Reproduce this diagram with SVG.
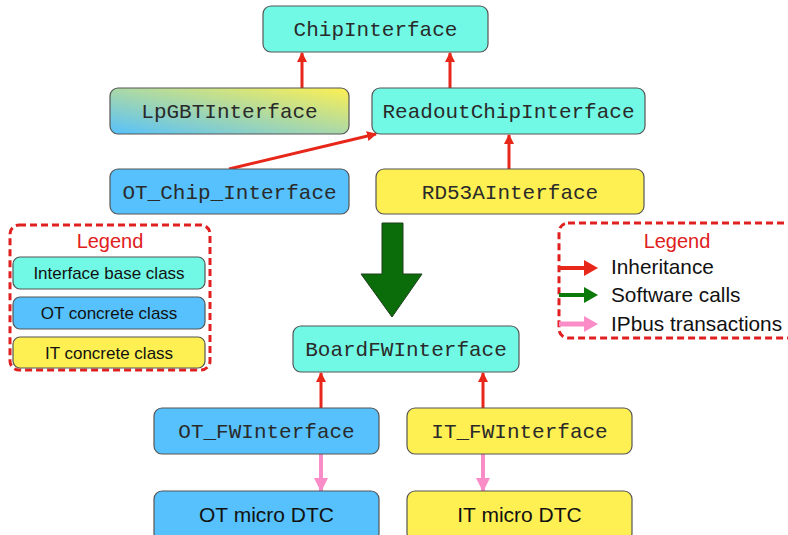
<svg xmlns="http://www.w3.org/2000/svg" width="788" height="535" viewBox="0 0 788 535">
<defs>
<linearGradient id="grad" x1="0" y1="1" x2="1" y2="0">
<stop offset="0" stop-color="#56C1FC"/>
<stop offset="1" stop-color="#FEF052"/>
</linearGradient>
<marker id="ar" markerWidth="10" markerHeight="10" refX="9" refY="5" orient="auto" markerUnits="userSpaceOnUse" viewBox="0 0 10 10">
<path d="M0,0 L10,5 L0,10 z" fill="#E8271B"/>
</marker>
<marker id="ap" markerWidth="14" markerHeight="14" refX="13" refY="7" orient="auto" markerUnits="userSpaceOnUse" viewBox="0 0 14 14">
<path d="M0,0 L14,7 L0,14 z" fill="#FA8DC8"/>
</marker>
</defs>
<style>
.box{stroke:#555;stroke-width:1.2}
.cyan{fill:#72F9E5}
.blue{fill:#56C1FC}
.yel{fill:#FEF052}
.mono{font-family:"Liberation Mono","Courier New",monospace;font-size:21px;fill:#2a2a2a;text-anchor:middle}
.sans{font-family:"Liberation Sans",Arial,sans-serif;fill:#111}
.red{stroke:#E8271B;stroke-width:3;fill:none;marker-end:url(#ar)}
.pink{stroke:#FA8DC8;stroke-width:4;fill:none;marker-end:url(#ap)}
.leg{fill:none;stroke:#E02020;stroke-width:3;stroke-dasharray:7,4}
.legtitle{fill:#E02020}
</style>
<rect width="788" height="535" fill="#fff"/>

<g id="connectors">
<line class="red" x1="302" y1="88" x2="302" y2="53"/>
<line class="red" x1="450" y1="88" x2="450" y2="53"/>
<line class="red" x1="229" y1="169" x2="376" y2="134"/>
<line class="red" x1="509" y1="169" x2="509" y2="135"/>
<line class="red" x1="321" y1="408" x2="321" y2="373"/>
<line class="red" x1="483" y1="408" x2="483" y2="373"/>
<line class="pink" x1="321" y1="454" x2="321" y2="491"/>
<line class="pink" x1="483" y1="454" x2="483" y2="491"/>
<path id="green-arrow" d="M382,223 L403,223 L403,274 L422,274 L392,317 L361,274 L382,274 Z" fill="#0A6D0A" stroke="#1f3f1f" stroke-width="1"/>
</g>

<g id="ChipInterface"><rect class="box cyan" x="263" y="6" width="225" height="46" rx="8"/><text class="mono" x="375.5" y="36">ChipInterface</text></g>
<g id="LpGBTInterface"><rect class="box" fill="url(#grad)" x="110" y="88" width="239" height="46" rx="8"/><text class="mono" x="229.5" y="118">LpGBTInterface</text></g>
<g id="ReadoutChipInterface"><rect class="box cyan" x="372" y="88" width="273" height="46" rx="8"/><text class="mono" x="508.5" y="118">ReadoutChipInterface</text></g>
<g id="OT_Chip_Interface"><rect class="box blue" x="110" y="169" width="239" height="45" rx="8"/><text class="mono" x="229.5" y="199">OT_Chip_Interface</text></g>
<g id="RD53AInterface"><rect class="box yel" x="376" y="169" width="268" height="45" rx="8"/><text class="mono" x="510" y="199">RD53AInterface</text></g>
<g id="BoardFWInterface"><rect class="box cyan" x="293" y="326" width="226" height="46" rx="8"/><text class="mono" x="406" y="356">BoardFWInterface</text></g>
<g id="OT_FWInterface"><rect class="box blue" x="154" y="408" width="225" height="46" rx="8"/><text class="mono" x="266.5" y="438">OT_FWInterface</text></g>
<g id="IT_FWInterface"><rect class="box yel" x="407" y="408" width="225" height="46" rx="8"/><text class="mono" x="519.5" y="438">IT_FWInterface</text></g>
<g id="OT_micro_DTC"><rect class="box blue" x="154" y="491" width="225" height="50" rx="8"/><text class="sans" x="266.5" y="522" font-size="21" text-anchor="middle">OT micro DTC</text></g>
<g id="IT_micro_DTC"><rect class="box yel" x="407" y="491" width="225" height="50" rx="8"/><text class="sans" x="519.5" y="522" font-size="21" text-anchor="middle">IT micro DTC</text></g>

<g id="legend-left">
<rect class="leg" x="10" y="225" width="200" height="145" rx="9"/>
<text class="sans legtitle" x="110" y="248" font-size="20" text-anchor="middle">Legend</text>
<rect class="box cyan" x="13" y="257" width="192" height="32" rx="7"/>
<text class="sans" x="109" y="279" font-size="17" text-anchor="middle">Interface base class</text>
<rect class="box blue" x="13" y="297" width="192" height="32" rx="7"/>
<text class="sans" x="109" y="319" font-size="17" text-anchor="middle">OT concrete class</text>
<rect class="box yel" x="13" y="337" width="192" height="31" rx="7"/>
<text class="sans" x="109" y="359" font-size="17" text-anchor="middle">IT concrete class</text>
</g>

<g id="legend-right">
<rect class="leg" x="559" y="223" width="250" height="115" rx="9"/>
<text class="sans legtitle" x="677" y="248" font-size="20" text-anchor="middle">Legend</text>
<line x1="559" y1="268" x2="586" y2="268" stroke="#E8271B" stroke-width="4"/>
<path d="M584,260 L598,268 L584,276 z" fill="#E8271B"/>
<line x1="559" y1="295" x2="586" y2="295" stroke="#0B7A0B" stroke-width="4"/>
<path d="M584,287 L598,295 L584,303 z" fill="#0B7A0B"/>
<line x1="559" y1="324" x2="586" y2="324" stroke="#FA8DC8" stroke-width="5"/>
<path d="M584,316 L598,324 L584,332 z" fill="#FA8DC8"/>
<text class="sans" x="611" y="274" font-size="20.8">Inheritance</text>
<text class="sans" x="611" y="302" font-size="20.8">Software calls</text>
<text class="sans" x="611" y="331" font-size="20.8">IPbus transactions</text>
</g>
</svg>
